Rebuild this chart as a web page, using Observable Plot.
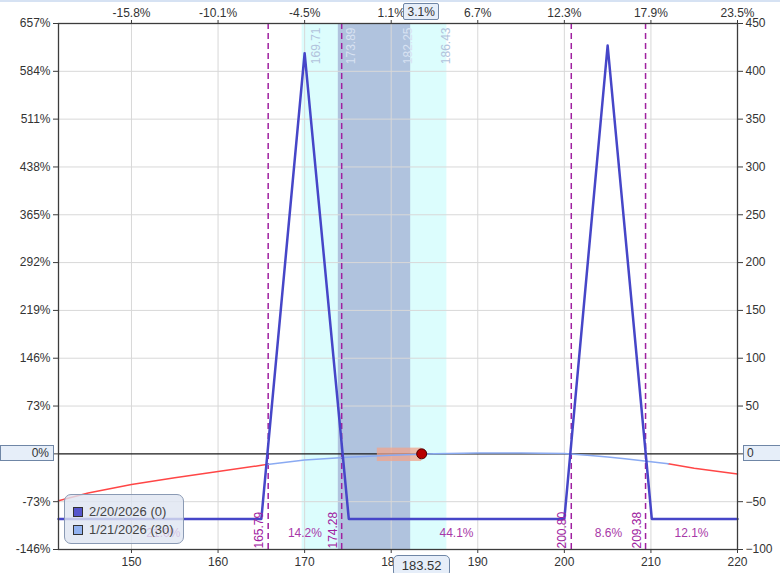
<!DOCTYPE html>
<html><head><meta charset="utf-8">
<script src="https://cdn.jsdelivr.net/npm/d3@7"></script>
<script src="https://cdn.jsdelivr.net/npm/@observablehq/plot@0.6"></script>
<style>
body{margin:0;background:#fff;font-family:"Liberation Sans",Arial,sans-serif;}
#wrap{position:relative;width:780px;height:573px;overflow:hidden;}
#wrap svg{position:absolute;left:0;top:0;overflow:visible;}
.box{position:absolute;background:#e6eef9;border:1px solid #6f86a6;font-size:12px;color:#333;line-height:14px;box-sizing:border-box;white-space:nowrap;}
.legend{position:absolute;border:1px solid #8a9ab4;border-radius:7px;background:rgba(222,229,241,0.8);box-sizing:border-box;font-size:13px;color:#444;}
.legend .row{position:absolute;left:8px;height:15px;line-height:15px;white-space:nowrap;}
.legend .sw{display:inline-block;width:8px;height:8px;border:1px solid #333;vertical-align:middle;margin-right:6px;position:relative;top:-1px;}
.strip{position:absolute;left:0;top:0;width:780px;height:2px;background:#d6e2f3;}
</style></head><body><div id="wrap"></div>
<script>
// ---- data ----
const xDomain = [141.57, 220];
const yDomain = [-100, 450];
const xTicks = [150, 160, 170, 180, 190, 200, 210, 220];
const xGridTicks = [150, 160, 170, 180, 190, 200, 210];
const topTickLabels = ["-15.8%", "-10.1%", "-4.5%", "1.1%", "6.7%", "12.3%", "17.9%", "23.5%"];
const rightTicks = [-100, -50, 0, 50, 100, 150, 200, 250, 300, 350, 400, 450];
const leftTickLabels = ["-146%", "-73%", "0%", "73%", "146%", "219%", "292%", "365%", "438%", "511%", "584%", "657%"];
const yGridTicks = [-50, 50, 100, 150, 200, 250, 300, 350, 400];

// expiration P&L (2/20/2026)
const expPrices = [141.57, 165.0, 170.0, 175.1, 200.0, 205.0, 210.1, 220];
const expPnl    = [-68,    -68,   419,   -68,   -68,   427,   -68,   -68];

// T+0 P&L (1/21/2026)
const t0Prices = [141.57, 145, 150, 155, 160, 165, 165.7, 170, 175, 180, 185, 190, 195, 200, 203, 205, 207, 210, 212, 215, 220];
const t0Pnl    = [-49,   -41, -32, -25, -18.5, -12, -11, -6.5, -3.5, -1.5, 0, 0.8, 1, 0.3, -1.7, -3.3, -5.2, -8.2, -10.4, -15, -21];
const t0InnerRange = [165.7, 212];

const breakevens = [165.79, 174.28, 200.80, 209.38];
const rangePcts = ["21.0%", "14.2%", "44.1%", "8.6%", "12.1%"];
const outerBand = [169.71, 186.43];
const innerBand = [173.89, 182.25];
const currentPrice = 183.52;
const moveStart = 178.4;
const currentPnl = 0;
const moveBand = [-8, 6];
const priceChangeLabel = "3.1%";
const legendLabels = ["2/20/2026 (0)", "1/21/2026 (30)"];
const legendColors = ["#5656cc", "#92b2f0"];

// ---- derived tables ----
const expData = expPrices.map((x, i) => ({x, y: expPnl[i]}));
const t0Data = t0Prices.map((x, i) => ({x, y: t0Pnl[i]}));
const t0Left = t0Data.filter(d => d.x <= t0InnerRange[0]);
const t0Mid = t0Data.filter(d => d.x >= t0InnerRange[0] && d.x <= t0InnerRange[1]);
const t0Right = t0Data.filter(d => d.x >= t0InnerRange[1]);
const bounds = [xDomain[0], ...breakevens, xDomain[1]];
const pctData = rangePcts.map((t, i) => ({x: (bounds[i] + bounds[i + 1]) / 2, t}));
const bandLabels = [
  {x: outerBand[0], dx: 9, c: "#b2c3dc"}, {x: innerBand[0], dx: 8, c: "#d8e2f2"},
  {x: innerBand[1], dx: -7, c: "#d8e2f2"}, {x: outerBand[1], dx: -5, c: "#b2c3dc"}
];

const font = "'Liberation Sans', Arial, sans-serif";
const chart = Plot.plot({
  width: 780, height: 573,
  marginLeft: 58, marginRight: 43, marginTop: 23, marginBottom: 24,
  x: {domain: xDomain},
  y: {domain: yDomain},
  style: {fontFamily: font, fontSize: "12px", color: "#333", background: "transparent", overflow: "visible"},
  marks: [
    Plot.rect([outerBand], {x1: d => d[0], x2: d => d[1], fill: "#dcfdfd"}),
    Plot.rect([innerBand], {x1: d => d[0], x2: d => d[1], fill: "#b0c3de"}),
    Plot.ruleX(xGridTicks, {stroke: "#d8d8d8", strokeWidth: 1}),
    Plot.ruleY(yGridTicks, {stroke: "#d8d8d8", strokeWidth: 1}),
    ...bandLabels.map(b => Plot.text([b], {x: "x", text: d => d.x.toFixed(2), rotate: -90, frameAnchor: "top", textAnchor: "end", dx: b.dx, dy: 4, fill: b.c, fontSize: 12})),
    Plot.ruleX(breakevens, {stroke: "#a020a0", strokeWidth: 1.5, strokeDasharray: "6,4"}),
    Plot.ruleY([0], {stroke: "#1a1a1a", strokeWidth: 1.2}),
    Plot.rect([moveBand], {x1: moveStart, x2: currentPrice, y1: d => d[0], y2: d => d[1], fill: "#f0a48c", fillOpacity: 0.75}),
    Plot.line(t0Left, {x: "x", y: "y", stroke: "#ff4646", strokeWidth: 1.5}),
    Plot.line(t0Right, {x: "x", y: "y", stroke: "#ff4646", strokeWidth: 1.5}),
    Plot.line(t0Mid, {x: "x", y: "y", stroke: "#8aaaf2", strokeWidth: 1.5}),
    Plot.line(expData, {x: "x", y: "y", stroke: "#4646c8", strokeWidth: 2.5}),
    Plot.dot([{x: currentPrice, y: currentPnl}], {x: "x", y: "y", r: 5, fill: "#b80000", stroke: "#4a0000", strokeWidth: 1}),
    Plot.text(breakevens, {x: d => d, text: d => d.toFixed(2), rotate: -90, frameAnchor: "bottom", textAnchor: "start", dx: -5, dy: -1, fill: "#a020a0", fontSize: 12}),
    Plot.text(pctData, {x: "x", text: "t", frameAnchor: "bottom", dy: -13, fill: "#a838a8", fontSize: 12}),
    Plot.frame({stroke: "#3c3c3c", strokeWidth: 1.3}),
    Plot.axisX(xTicks, {anchor: "bottom", tickSize: 4, tickPadding: 4, label: null, stroke: "#3c3c3c", fill: "#333", fontSize: 12}),
    Plot.axisX(xTicks, {anchor: "top", tickSize: 4, tickPadding: 3, label: null, tickFormat: d => topTickLabels[xTicks.indexOf(d)], stroke: "#3c3c3c", fill: "#333", fontSize: 12}),
    Plot.axisY(rightTicks, {anchor: "right", tickSize: 5, tickPadding: 3, label: null, stroke: "#3c3c3c", fill: "#333", fontSize: 12}),
    Plot.axisY(rightTicks, {anchor: "left", tickSize: 5, tickPadding: 3, label: null, tickFormat: d => leftTickLabels[rightTicks.indexOf(d)], stroke: "#3c3c3c", fill: "#333", fontSize: 12})
  ]
});

const wrap = document.getElementById("wrap");
wrap.appendChild(chart);
const strip = document.createElement("div"); strip.className = "strip"; wrap.appendChild(strip);

const sx = chart.scale("x"), sy = chart.scale("y");
const y0 = sy.apply(0), xp = sx.apply(currentPrice);
function box(text, css, align) {
  const b = document.createElement("div");
  b.className = "box";
  b.textContent = text;
  Object.assign(b.style, css);
  b.style.textAlign = align;
  wrap.appendChild(b);
  return b;
}
box(leftTickLabels[rightTicks.indexOf(0)], {left: "0px", top: (y0 - 8) + "px", width: "54px", height: "16px", paddingRight: "4px"}, "right");
box(String(0), {left: "743px", top: (y0 - 8) + "px", width: "40px", height: "16px", paddingLeft: "3px"}, "left");
box(priceChangeLabel, {left: (xp - 18) + "px", top: "3px", width: "36px", height: "17px", borderRadius: "2px", paddingTop: "1px"}, "center");
box(currentPrice.toFixed(2), {left: (xp - 28) + "px", top: "555px", width: "57px", height: "22px", borderRadius: "5px", paddingTop: "3px", fontSize: "13px"}, "center");

const leg = document.createElement("div");
leg.className = "legend";
Object.assign(leg.style, {left: "64px", top: "494px", width: "120px", height: "50px"});
legendLabels.forEach((t, i) => {
  const r = document.createElement("div");
  r.className = "row";
  r.style.top = (9 + i * 18) + "px";
  const s = document.createElement("span"); s.className = "sw"; s.style.background = legendColors[i];
  r.appendChild(s);
  r.appendChild(document.createTextNode(t));
  leg.appendChild(r);
});
wrap.appendChild(leg);
</script></body></html>
